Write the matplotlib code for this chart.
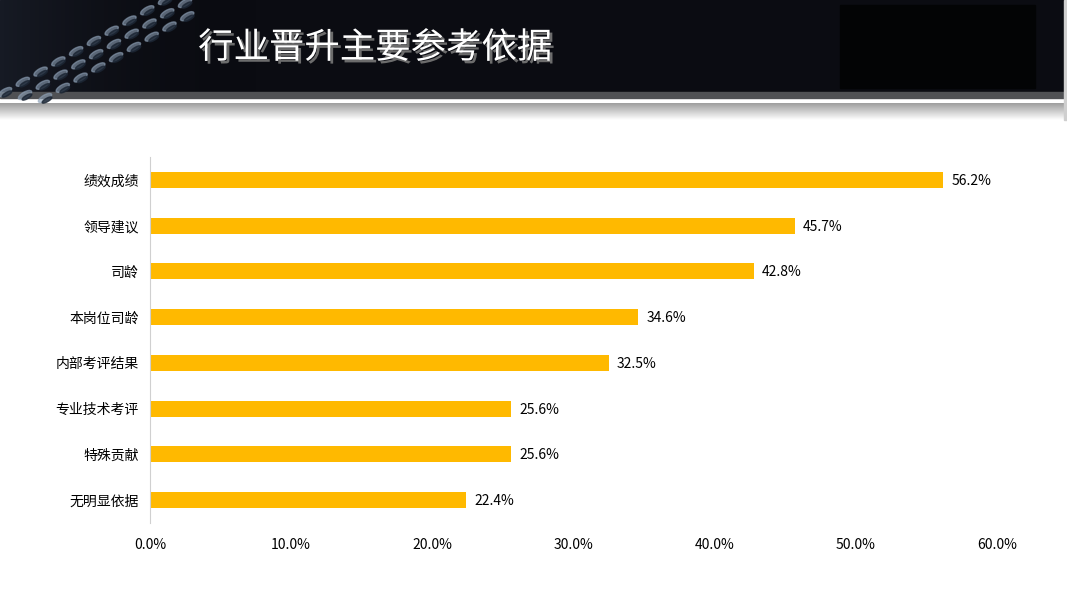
import matplotlib.pyplot as plt
import numpy as np
from matplotlib.patches import Rectangle, Ellipse
import matplotlib.patheffects as pe

plt.rcParams['font.family'] = ['Noto Sans CJK SC', 'DejaVu Sans']

categories = ['绩效成绩', '领导建议', '司龄', '本岗位司龄', '内部考评结果',
              '专业技术考评', '特殊贡献', '无明显依据']
values = [56.2, 45.7, 42.8, 34.6, 32.5, 25.6, 25.6, 22.4]
xticks = [0, 10, 20, 30, 40, 50, 60]
title = '行业晋升主要参考依据'

W, H = 1067, 600
fig = plt.figure(figsize=(W / 100, H / 100), dpi=100)
fig.patch.set_facecolor('white')

# header banner, drawn in pixel coords
hdr = fig.add_axes([0, 1 - 125 / H, 1, 125 / H])
hdr.set_xlim(0, W)
hdr.set_ylim(125, 0)
hdr.axis('off')
hdr.add_patch(Rectangle((0, 0), W, 92, color='#0b0c12', zorder=1))
# bluish glow behind the gear
glow = np.linspace(0.35, 0.0, 60).reshape(1, -1)
hdr.imshow(np.dstack([glow * 0.5, glow * 0.6, glow * 0.8, glow]),
           extent=(0, 260, 92, 0), aspect='auto', zorder=1.5)
hdr.add_patch(Rectangle((840, 5), 195, 83, color='#030405', zorder=2))
hdr.add_patch(Rectangle((0, 92), W, 6, color='#505154', zorder=2))
grad = np.linspace(0.62, 1.0, 50).reshape(-1, 1)
hdr.imshow(np.dstack([grad, grad, grad]), extent=(0, W, 120, 103),
           aspect='auto', zorder=2)
hdr.add_patch(Rectangle((1064, 0), 3, 120, color='#cfcfcf', zorder=3))

# rough gear teeth on the left
for row, off in enumerate([0, 20, 40]):
    for k in range(10):
        t = k / 9
        x = 5 + off + t * 160
        y = 92 - t * 92 + row * 3
        if x > 200 or y < 0:
            continue
        hdr.add_patch(Ellipse((x, y), 15, 6, angle=-30,
                              color='#8fa2b8', alpha=0.6, zorder=3))
        hdr.add_patch(Ellipse((x + 2, y + 2), 11, 3.5, angle=-30,
                              color='#1c2634', alpha=0.8, zorder=3))

hdr.text(375, 48, title, color='white', fontsize=25.5, ha='center',
         va='center', zorder=5,
         path_effects=[pe.withSimplePatchShadow(offset=(2, -2),
                                                shadow_rgbFace='#777777',
                                                alpha=0.9)])

# bar chart
ax = fig.add_axes([150 / W, 77 / H, 847 / W, 366 / H])
y = np.arange(len(categories))
ax.barh(y, values, height=0.35, color='#FFB900')
ax.set_ylim(len(categories) - 0.5, -0.5)
ax.set_xlim(0, 60)
ax.set_yticks(y)
ax.set_yticklabels(categories, fontsize=10)
ax.set_xticks(xticks)
ax.set_xticklabels(['%.1f%%' % v for v in xticks], fontsize=10)
ax.tick_params(axis='y', length=0, pad=8)
ax.tick_params(axis='x', length=0, pad=11)
for s in ['top', 'right', 'bottom']:
    ax.spines[s].set_visible(False)
ax.spines['left'].set_color('#d0d0d0')
for yi, v in zip(y, values):
    ax.text(v + 0.55, yi + 0.02, '%.1f%%' % v, va='center', ha='left',
            fontsize=10)

fig.savefig('out.png', dpi=100)
